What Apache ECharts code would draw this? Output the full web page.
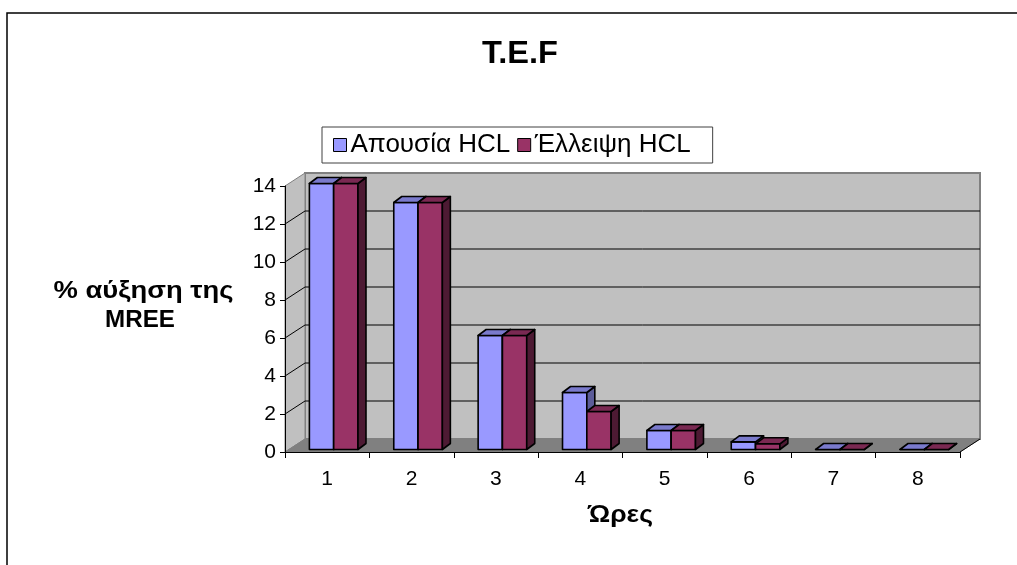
<!DOCTYPE html>
<html>
<head>
<meta charset="utf-8">
<script src="https://cdn.jsdelivr.net/npm/echarts@6/dist/echarts.min.js"></script>
<style>
html,body{margin:0;padding:0;background:#fff;}
#chart{width:1017px;height:565px;}
</style>
</head>
<body>
<div id="chart"></div>
<script>
// ---- data ----
const categories = ['1', '2', '3', '4', '5', '6', '7', '8'];
const absenceHCL = [14, 13, 6, 3, 1, 0.4, 0, 0];
const deficiencyHCL = [14, 13, 6, 2, 1, 0.3, 0, 0];
const yTicks = [0, 2, 4, 6, 8, 10, 12, 14];
const seriesNames = ['Απουσία HCL', 'Έλλειψη HCL'];
const titleText = 'T.E.F';
const yAxisTitleLines = ['% αύξηση της', 'MREE'];
const xAxisTitle = 'Ώρες';

// ---- styling constants ----
const FONT = '"Liberation Sans", Arial, sans-serif';
const DX = 20, DY = -13;          // depth of walls
const BDX = 8, BDY = -6;          // depth of bars
const OX = 6.5, OY = -2.5;        // bar offset from front plane
const BAR_FRAC = 0.288;
const palettes = [
  { front: '#9999FF', top: '#7A7ACC', side: '#5C5C99' },
  { front: '#993366', top: '#7A2952', side: '#4D1A33' }
];

function renderWalls(params, api) {
  const cs = params.coordSys;
  const x0 = cs.x, x1 = cs.x + cs.width, yt = cs.y, yb = cs.y + cs.height;
  const children = [];
  children.push({ type: 'polygon', shape: { points: [[x0 + DX, yt + DY], [x1 + DX, yt + DY], [x1 + DX, yb + DY], [x0 + DX, yb + DY]] },
    style: { fill: '#C0C0C0', stroke: '#808080', lineWidth: 2 } });
  children.push({ type: 'polygon', shape: { points: [[x0, yt], [x0 + DX, yt + DY], [x0 + DX, yb + DY], [x0, yb]] },
    style: { fill: '#C0C0C0', stroke: '#808080', lineWidth: 1 } });
  children.push({ type: 'polygon', shape: { points: [[x0, yb], [x0 + DX, yb + DY], [x1 + DX, yb + DY], [x1, yb]] },
    style: { fill: '#808080', stroke: '#808080', lineWidth: 1 } });
  yTicks.forEach(function (v) {
    if (v <= yTicks[0] || v >= yTicks[yTicks.length - 1]) return;
    const y = api.coord([0, v])[1];
    children.push({ type: 'line', shape: { x1: x0 + DX, y1: y + DY, x2: x1 + DX, y2: y + DY }, style: { stroke: '#000', lineWidth: 1 } });
    children.push({ type: 'line', shape: { x1: x0, y1: y, x2: x0 + DX, y2: y + DY }, style: { stroke: '#000', lineWidth: 1 } });
  });
  children.push({ type: 'line', shape: { x1: x1, y1: yb, x2: x1 + DX, y2: yb + DY }, style: { stroke: '#000', lineWidth: 1 } });
  return { type: 'group', children: children };
}

function makeBarRenderer(idx) {
  const pal = palettes[idx];
  return function (params, api) {
    const c = api.value(0), v = api.value(1);
    const top = api.coord([c, v]);
    const base = api.coord([c, 0]);
    const band = api.size([1, 0])[0];
    const w = band * BAR_FRAC;
    const left = top[0] - w + idx * w + OX;
    const right = left + w;
    const yT = top[1] + OY, yB = base[1] + OY;
    const st = { stroke: '#000', lineWidth: 1.6, lineJoin: 'round' };
    return { type: 'group', children: [
      { type: 'polygon', shape: { points: [[left, yB], [left, yT], [right, yT], [right, yB]] }, style: Object.assign({ fill: pal.front }, st) },
      { type: 'polygon', shape: { points: [[right, yT], [right + BDX, yT + BDY], [right + BDX, yB + BDY], [right, yB]] }, style: Object.assign({ fill: pal.side }, st) },
      { type: 'polygon', shape: { points: [[left, yT], [left + BDX, yT + BDY], [right + BDX, yT + BDY], [right, yT]] }, style: Object.assign({ fill: pal.top }, st) }
    ] };
  };
}

function label(text, x, y, size, scaleX) {
  return { type: 'text', x: x, y: y, scaleX: scaleX, silent: true, z: 50,
    style: { text: text, font: 'bold ' + size + 'px ' + FONT, fill: '#000', align: 'center', verticalAlign: 'middle' } };
}

const chart = echarts.init(document.getElementById('chart'), null, { renderer: 'canvas' });
chart.setOption({
  animation: false,
  backgroundColor: '#fff',
  textStyle: { fontFamily: FONT },
  legend: {
    left: 322, top: 127,
    orient: 'horizontal',
    padding: [5, 22, 5, 11],
    borderColor: '#404040', borderWidth: 1,
    itemWidth: 13, itemHeight: 13, itemGap: 7,
    icon: 'rect',
    textStyle: { fontFamily: FONT, fontSize: 26, color: '#000', padding: [0, 0, 0, -1] },
    data: [
      { name: seriesNames[0], itemStyle: { color: palettes[0].front, borderColor: '#000', borderWidth: 1 } },
      { name: seriesNames[1], itemStyle: { color: palettes[1].front, borderColor: '#000', borderWidth: 1 } }
    ]
  },
  grid: { left: 285, right: 57, top: 186, bottom: 113, containLabel: false },
  xAxis: {
    type: 'category', data: categories, boundaryGap: true, z: 10,
    axisLine: { show: true, lineStyle: { color: '#000', width: 1 } },
    axisTick: { show: true, alignWithLabel: false, length: 6, lineStyle: { color: '#000' } },
    axisLabel: { margin: 17, fontSize: 21, color: '#000', fontFamily: FONT },
    splitLine: { show: false }
  },
  yAxis: {
    type: 'value', min: yTicks[0], max: yTicks[yTicks.length - 1], interval: yTicks[1] - yTicks[0], z: 10,
    axisLine: { show: true, lineStyle: { color: '#000', width: 1 } },
    axisTick: { show: true, length: 5, lineStyle: { color: '#000' } },
    axisLabel: { margin: 9, fontSize: 21, color: '#000', fontFamily: FONT },
    splitLine: { show: false }
  },
  graphic: [
    { type: 'rect', shape: { x: 7, y: 13, width: 1100, height: 600 },
      style: { fill: 'none', stroke: '#000', lineWidth: 1.5 }, z: 100, silent: true },
    label(titleText, 520, 54, 31, 1.05),
    label(yAxisTitleLines[0], 143.5, 292, 23, 1.19),
    label(yAxisTitleLines[1], 140, 321, 23, 1.05),
    label(xAxisTitle, 620.5, 516, 23, 1.15)
  ],
  series: [
    { name: '__walls', type: 'custom', renderItem: renderWalls, data: [[0, 0]], z: 1, silent: true, legendHoverLink: false },
    { name: seriesNames[0], type: 'custom', renderItem: makeBarRenderer(0), data: absenceHCL.map(function (v, i) { return [i, v]; }),
      itemStyle: { color: palettes[0].front }, z: 3, encode: { x: 0, y: 1 } },
    { name: seriesNames[1], type: 'custom', renderItem: makeBarRenderer(1), data: deficiencyHCL.map(function (v, i) { return [i, v]; }),
      itemStyle: { color: palettes[1].front }, z: 3, encode: { x: 0, y: 1 } }
  ]
});
</script>
</body>
</html>
